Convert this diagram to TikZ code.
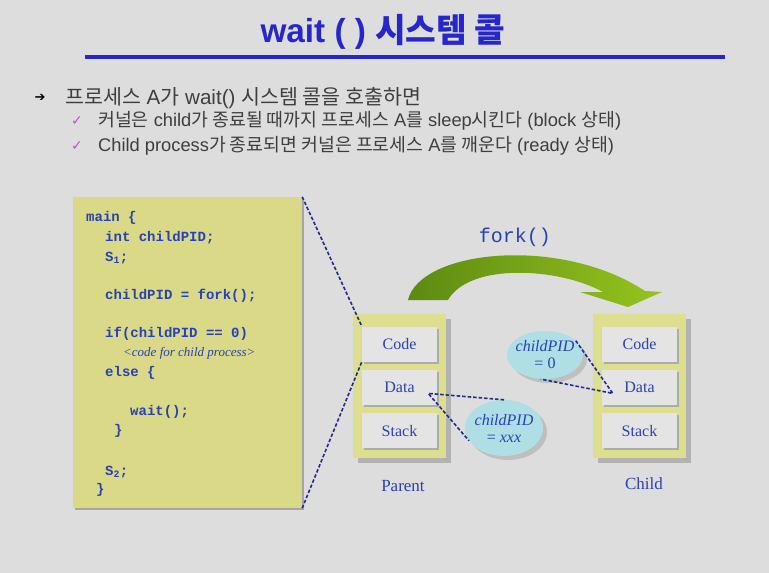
\documentclass[tikz,border=0pt]{standalone}
\usepackage{fontspec}
\setmainfont{Liberation Sans}
\setmonofont{Liberation Mono}
\newfontfamily\krfont{Noto Sans CJK KR}
\newfontfamily\serifont{Liberation Serif}
\newfontfamily\symfont{DejaVu Sans}
\usepackage{tikz}
\usetikzlibrary{positioning,shapes.geometric,shadows,calc}

\definecolor{slidebg}{RGB}{221,221,221}
\definecolor{titleblue}{RGB}{38,38,205}
\definecolor{textgray}{RGB}{62,62,62}
\definecolor{checkviolet}{RGB}{185,85,205}
\definecolor{codeblue}{RGB}{40,65,180}
\definecolor{panelyellow}{RGB}{217,217,135}
\definecolor{frameyellow}{RGB}{222,222,145}
\definecolor{cellgray}{RGB}{228,228,228}
\definecolor{bubblecyan}{RGB}{175,222,228}
\definecolor{dashblue}{RGB}{30,45,140}
\definecolor{forkdark}{RGB}{92,138,18}
\definecolor{forklight}{RGB}{150,196,30}

\newcommand{\kr}[1]{{\krfont #1}}

\begin{document}
\begin{tikzpicture}[
    x=1pt, y=-1pt,
    title/.style={font=\bfseries\fontsize{33.3}{36}\selectfont, text=titleblue},
    bulletline/.style={anchor=west, inner sep=0pt, text height=15pt, text depth=4pt,
                       font=\fontsize{20.6}{23}\selectfont, text=textgray},
    subline/.style={anchor=west, inner sep=0pt, text height=13pt, text depth=4pt,
                    font=\fontsize{18.3}{21}\selectfont, text=textgray},
    marker/.style={font=\symfont\fontsize{14}{15}\selectfont, text=checkviolet},
    codeline/.style={anchor=west, inner sep=0pt, text height=10pt, text depth=3pt,
                     font=\ttfamily\bfseries\fontsize{14}{16}\selectfont, text=codeblue},
    commentline/.style={anchor=west, inner sep=0pt, text height=9pt, text depth=3pt,
                        font=\serifont\itshape\fontsize{13}{15}\selectfont, text=codeblue},
    codepanel/.style={rectangle, fill=panelyellow, minimum width=229pt, minimum height=311pt,
                      drop shadow={shadow xshift=2pt, shadow yshift=-2pt, fill=gray!70, opacity=1}},
    frame/.style={rectangle, fill=frameyellow, minimum width=93pt, minimum height=144pt,
                  drop shadow={shadow xshift=5pt, shadow yshift=-5pt, fill=gray!60, opacity=1}},
    cell/.style={rectangle, fill=cellgray, minimum width=75pt, minimum height=35pt, inner sep=0pt,
                 font=\serifont\fontsize{16}{18}\selectfont, text=codeblue,
                 drop shadow={shadow xshift=2pt, shadow yshift=-2pt, fill=gray!65, opacity=1}},
    bubble/.style={ellipse, fill=bubblecyan, inner xsep=-6pt, inner ysep=-2pt, align=center,
                   font=\serifont\fontsize{16}{17}\selectfont, text=codeblue,
                   drop shadow={shadow xshift=4pt, shadow yshift=-4pt, fill=gray!50, opacity=1}},
    caption/.style={font=\serifont\fontsize{17}{20}\selectfont, text=codeblue},
    link/.style={dashblue, line width=1.6pt, dash pattern=on 3.5pt off 2pt}
  ]
    \fill[slidebg] (0,0) rectangle (769,573);
    \useasboundingbox (0,0) rectangle (769,573);

    % title and rule
    \node[title] (head) at (383,32) {wait ( ) \kr{시스템 콜}};
    \draw[titleblue, line width=3.5pt] (85,57) -- (725,57);

    % bullets
    \node[font=\symfont\bfseries\fontsize{13}{14}\selectfont, text=black] (m1) at (40,98) {➔};
    \node[bulletline] (b1) at (65,99) {\kr{프로세스} A\kr{가} wait() \kr{시스템 콜을 호출하면}};
    \node[marker] (m2) at (77,121) {✓};
    \node[subline] (b2) at (98,122) {\kr{커널은} child\kr{가 종료될 때까지 프로세스} A\kr{를} sleep\kr{시킨다} (block \kr{상태})};
    \node[marker] (m3) at (77,146) {✓};
    \node[subline] (b3) at (98,147) {Child process\kr{가 종료되면 커널은 프로세스} A\kr{를 깨운다} (ready \kr{상태})};

    % code panel
    \node[codepanel] (panel) at (187.5,352.5) {};
    \node[codeline] (l1) at (86,218) {main \{};
    \node[codeline] (l2) at (105,238) {int childPID;};
    \node[codeline] (l3) at (105,258) {S\textsubscript{1};};
    \node[codeline] (l4) at (105,296) {childPID = fork();};
    \node[codeline] (l5) at (105,334) {if(childPID == 0)};
    \node[commentline] (l6) at (123,353) {<code for child process>};
    \node[codeline] (l7) at (105,373) {else \{};
    \node[codeline] (l8) at (130,412) {wait();};
    \node[codeline] (l9) at (114,431) {\}};
    \node[codeline] (l10) at (105,472) {S\textsubscript{2};};
    \node[codeline] (l11) at (96,490) {\}};

    % parent and child memory
    \node[frame] (parent) at (399.5,386) {};
    \node[cell] (pcode) at (399.5,344) {Code};
    \node[cell, below=8pt of pcode] (pdata) {Data};
    \node[cell, below=8pt of pdata] (pstack) {Stack};
    \node[caption] (plabel) at (403,486) {Parent};

    \node[frame] (child) at (639,386) {};
    \node[cell] (ccode) at (639.5,344) {Code};
    \node[cell, below=8pt of ccode] (cdata) {Data};
    \node[cell, below=8pt of cdata] (cstack) {Stack};
    \node[caption] (clabel) at (644,484) {Child};

    % fork arrow
    \shade[left color=forkdark, right color=forklight]
      (408,300) .. controls (420,250) and (560,235) .. (645,291)
      -- (662,292) -- (628,307) -- (580,292) -- (603,292)
      .. controls (560,268) and (470,262) .. (448,300) -- cycle;
    \node[font=\ttfamily\fontsize{20}{22}\selectfont, text=codeblue] (forklabel) at (515,237) {fork()};

    % childPID bubbles
    \node[bubble, minimum width=76pt, minimum height=48pt] (pidzero) at (545,355)
      {\textit{childPID}\\= 0};
    \node[bubble, minimum width=78pt, minimum height=56pt] (pidxxx) at (504,428)
      {\textit{childPID}\\= \textit{xxx}};

    \coordinate (ptip) at ($(pdata.east)+(-9,6)$);
    \coordinate (ctip) at ($(cdata.west)+(11,6)$);
    \draw[link] (pidxxx.north) -- (ptip) -- (pidxxx.200);
    \draw[link] (pidzero.25) -- (ctip) -- (pidzero.260);

    % zoom lines from code panel
    \draw[link] (panel.north east) -- (pcode.north west);
    \draw[link] (panel.south east) -- (pcode.south west);
  \end{tikzpicture}
\end{document}
